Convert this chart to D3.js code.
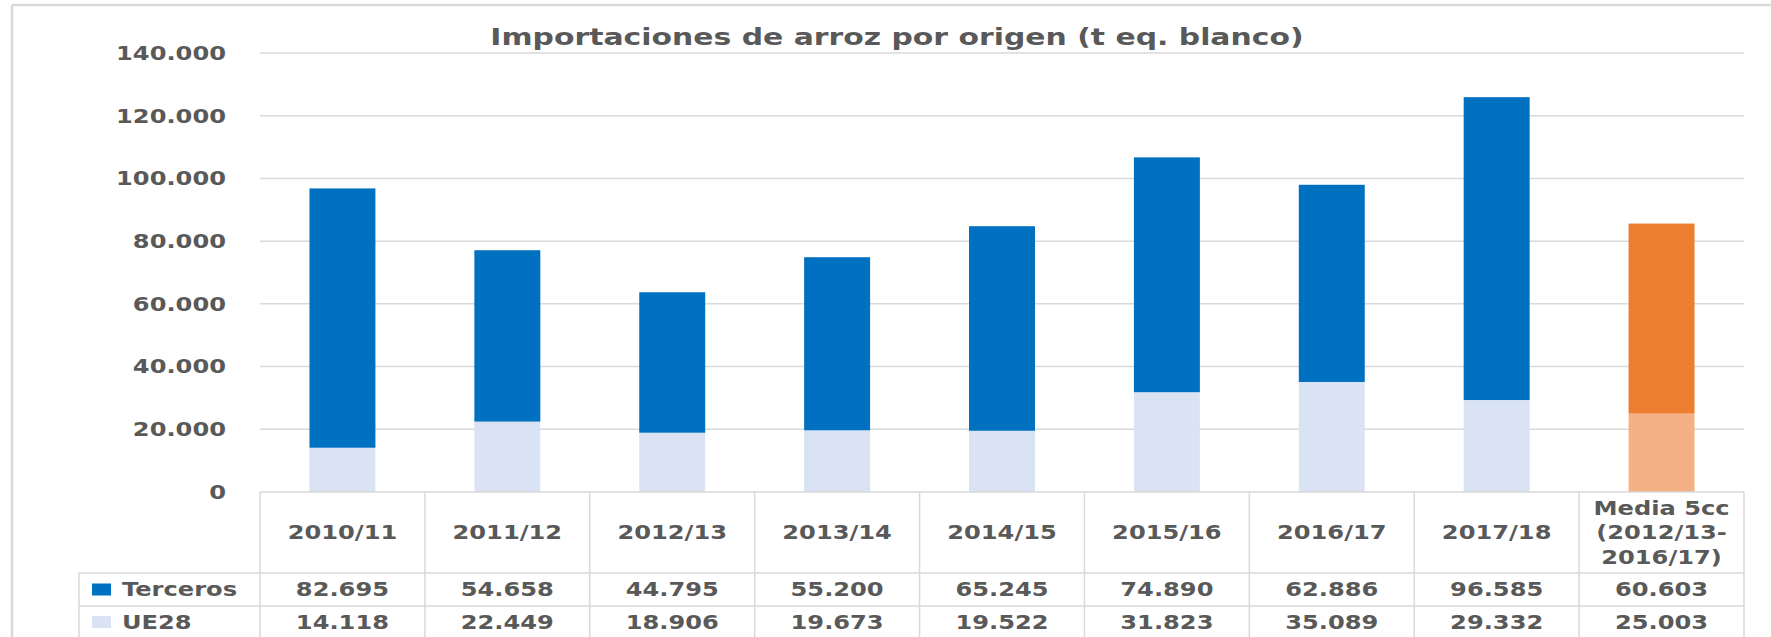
<!doctype html>
<html lang="es">
<head>
  <meta charset="utf-8">
  <title>Importaciones de arroz por origen</title>
  <script src="https://d3js.org/d3.v7.min.js"></script>
  <style>
    html, body { margin: 0; padding: 0; background: #fff; }
    svg { display: block; font-family: "DejaVu Sans", Verdana, sans-serif; font-weight: bold; }
  </style>
</head>
<body>
<svg id="chart" width="1771" height="637"></svg>
<script>
// data
const categories = ["2010/11", "2011/12", "2012/13", "2013/14", "2014/15", "2015/16", "2016/17", "2017/18", "Media 5cc"];
const headerLines = [["2010/11"], ["2011/12"], ["2012/13"], ["2013/14"], ["2014/15"], ["2015/16"], ["2016/17"], ["2017/18"],
                     ["Media 5cc", "(2012/13-", "2016/17)"]];
const terceros = [82695, 54658, 44795, 55200, 65245, 74890, 62886, 96585, 60603];
const ue28 = [14118, 22449, 18906, 19673, 19522, 31823, 35089, 29332, 25003];
const yTicks = [0, 20000, 40000, 60000, 80000, 100000, 120000, 140000];

const W = 1771, H = 637;
const textColor = "#595959", lineColor = "#d9d9d9";
const stretchK = 1.27; // the source picture is widened, so are its letters

const es = d3.formatLocale({decimal: ",", thousands: ".", grouping: [3], currency: ["", " €"]});
const fmt = es.format(",d");

const svg = d3.select("#chart");

const cols = d3.scaleBand().domain(categories).range([260, 1744]).padding(0);
const barW = cols.bandwidth() * 0.4;
const y = d3.scaleLinear().domain([0, 140000]).range([492, 53]);

const rowTop = 573, rowMid = 606, rowBot = 639;

// outer frame (top + left only visible)
svg.append("line").attr("x1", 12).attr("x2", W).attr("y1", 5).attr("y2", 5)
  .attr("stroke", lineColor).attr("stroke-width", 2.5);
svg.append("line").attr("x1", 12).attr("x2", 12).attr("y1", 5).attr("y2", H)
  .attr("stroke", lineColor).attr("stroke-width", 2.5);

// gridlines
svg.append("g").selectAll("line").data(yTicks.filter(d => d > 0)).join("line")
  .attr("x1", 260).attr("x2", 1744)
  .attr("y1", d => y(d)).attr("y2", d => y(d))
  .attr("stroke", lineColor).attr("stroke-width", 1.5);

function stretch(sel) {
  sel.each(function() {
    const len = this.getComputedTextLength();
    d3.select(this).attr("textLength", len * stretchK).attr("lengthAdjust", "spacingAndGlyphs");
  });
}

// y axis labels
svg.append("g").selectAll("text").data(yTicks).join("text")
  .attr("x", 226).attr("y", d => y(d)).attr("dy", "0.36em")
  .attr("text-anchor", "end").attr("font-size", 19).attr("fill", textColor)
  .text(d => fmt(d))
  .call(stretch);

// stacked bars
const isMedia = (i) => i === categories.length - 1;
const bars = svg.append("g");
bars.selectAll("rect.ue").data(categories).join("rect").attr("class", "ue")
  .attr("x", d => cols(d) + (cols.bandwidth() - barW) / 2)
  .attr("width", barW)
  .attr("y", (d, i) => y(ue28[i]))
  .attr("height", (d, i) => y(0) - y(ue28[i]))
  .attr("fill", (d, i) => isMedia(i) ? "#f4b183" : "#dae3f3");
bars.selectAll("rect.te").data(categories).join("rect").attr("class", "te")
  .attr("x", d => cols(d) + (cols.bandwidth() - barW) / 2)
  .attr("width", barW)
  .attr("y", (d, i) => y(ue28[i] + terceros[i]))
  .attr("height", (d, i) => y(ue28[i]) - y(ue28[i] + terceros[i]))
  .attr("fill", (d, i) => isMedia(i) ? "#ed7d31" : "#0070c0");

// title
svg.append("text").attr("x", 897).attr("y", 37).attr("dy", "0.36em")
  .attr("text-anchor", "middle").attr("font-size", 23.5).attr("fill", textColor)
  .text("Importaciones de arroz por origen (t eq. blanco)")
  .call(stretch);

// data table
const tbl = svg.append("g").attr("stroke", lineColor).attr("stroke-width", 1.5);
tbl.append("line").attr("x1", 260).attr("x2", 1744).attr("y1", y(0)).attr("y2", y(0));
tbl.append("line").attr("x1", 79).attr("x2", 1744).attr("y1", rowTop).attr("y2", rowTop);
tbl.append("line").attr("x1", 79).attr("x2", 1744).attr("y1", rowMid).attr("y2", rowMid);
tbl.append("line").attr("x1", 79).attr("x2", 79).attr("y1", rowTop).attr("y2", rowBot);
tbl.selectAll("line.v").data(categories.concat(["end"])).join("line").attr("class", "v")
  .attr("x1", (d, i) => i < categories.length ? cols(d) : cols.range()[1])
  .attr("x2", (d, i) => i < categories.length ? cols(d) : cols.range()[1])
  .attr("y1", y(0)).attr("y2", rowBot);

// header cells
const head = svg.append("g").attr("font-size", 19).attr("fill", textColor).attr("text-anchor", "middle");
categories.forEach((c, i) => {
  const lines = headerLines[i];
  const cy = (y(0) + rowTop) / 2;
  const lh = 24.5;
  lines.forEach((t, j) => {
    head.append("text")
      .attr("x", cols(c) + cols.bandwidth() / 2)
      .attr("y", cy + (j - (lines.length - 1) / 2) * lh)
      .attr("dy", "0.36em")
      .text(t);
  });
});
head.selectAll("text").call(stretch);

// value rows
const rows = [
  {name: "Terceros", values: terceros, color: "#0070c0", top: rowTop, bot: rowMid},
  {name: "UE28", values: ue28, color: "#dae3f3", top: rowMid, bot: rowBot - 1}
];
const body = svg.append("g").attr("font-size", 19).attr("fill", textColor);
rows.forEach(r => {
  const cy = (r.top + r.bot) / 2;
  body.append("rect").attr("x", 92).attr("y", cy - 6).attr("width", 19).attr("height", 12).attr("fill", r.color);
  body.append("text").attr("x", 122).attr("y", cy).attr("dy", "0.36em").text(r.name);
  body.selectAll(null).data(r.values).join("text")
    .attr("x", (d, i) => cols(categories[i]) + cols.bandwidth() / 2)
    .attr("y", cy).attr("dy", "0.36em").attr("text-anchor", "middle")
    .text(d => fmt(d));
});
body.selectAll("text").call(stretch);
</script>
</body>
</html>
